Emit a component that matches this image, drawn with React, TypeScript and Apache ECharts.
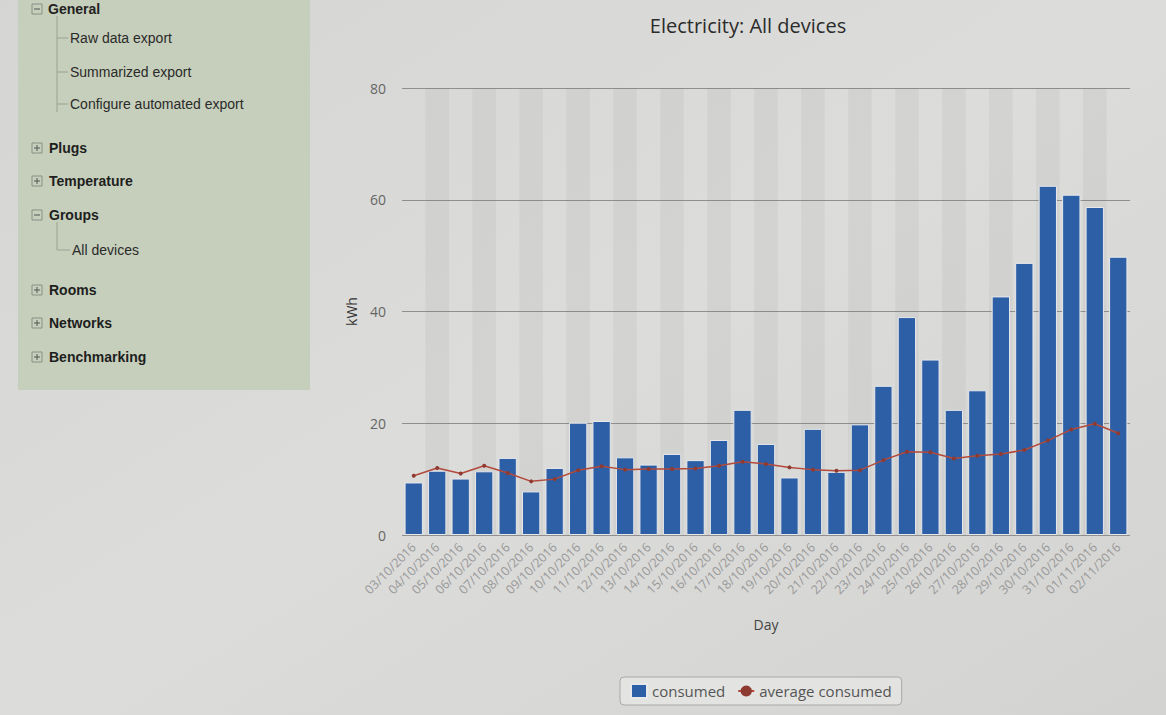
import React, { useEffect, useRef } from "react";
import * as echarts from "echarts";

const days: string[] = [
  "03/10/2016", "04/10/2016", "05/10/2016", "06/10/2016", "07/10/2016", "08/10/2016",
  "09/10/2016", "10/10/2016", "11/10/2016", "12/10/2016", "13/10/2016", "14/10/2016",
  "15/10/2016", "16/10/2016", "17/10/2016", "18/10/2016", "19/10/2016", "20/10/2016",
  "21/10/2016", "22/10/2016", "23/10/2016", "24/10/2016", "25/10/2016", "26/10/2016",
  "27/10/2016", "28/10/2016", "29/10/2016", "30/10/2016", "31/10/2016", "01/11/2016",
  "02/11/2016",
];

const consumed: number[] = [
  9.4, 11.5, 10.1, 11.4, 13.8, 7.8, 12.0, 20.1, 20.4, 13.9, 12.6, 14.5, 13.4, 17.0, 22.4,
  16.3, 10.3, 19.0, 11.3, 19.8, 26.7, 39.0, 31.4, 22.4, 25.9, 42.7, 48.7, 62.5, 60.9, 58.7,
  49.8,
];

const averageConsumed: number[] = [
  10.6, 12.0, 11.0, 12.4, 11.1, 9.6, 10.0, 11.6, 12.3, 11.7, 11.8, 11.8, 11.9, 12.4, 13.1,
  12.7, 12.1, 11.7, 11.5, 11.6, 13.4, 14.9, 14.8, 13.7, 14.2, 14.5, 15.2, 16.9, 18.9, 19.9,
  18.2,
];

const yTicks = { min: 0, max: 80, interval: 20 };

const menuChildrenGeneral = ["Raw data export", "Summarized export", "Configure automated export"];
const menuTop: { label: string; open: boolean; y: number }[] = [
  { label: "Plugs", open: false, y: 148 },
  { label: "Temperature", open: false, y: 181 },
  { label: "Groups", open: true, y: 215 },
  { label: "Rooms", open: false, y: 290 },
  { label: "Networks", open: false, y: 323 },
  { label: "Benchmarking", open: false, y: 357 },
];

function boxIcon(x: number, y: number, open: boolean): any[] {
  const els: any[] = [
    {
      type: "rect",
      shape: { x: x, y: y - 5, width: 10, height: 10 },
      style: { fill: "rgba(0,0,0,0)", stroke: "#8a8f86", lineWidth: 1 },
    },
    {
      type: "line",
      shape: { x1: x + 2, y1: y, x2: x + 8, y2: y },
      style: { stroke: "#555", lineWidth: 1 },
    },
  ];
  if (!open) {
    els.push({
      type: "line",
      shape: { x1: x + 5, y1: y - 3, x2: x + 5, y2: y + 3 },
      style: { stroke: "#555", lineWidth: 1 },
    });
  }
  return els;
}

function buildSidebar(): any[] {
  const els: any[] = [];
  els.push({
    type: "rect",
    shape: { x: 18, y: 0, width: 292, height: 390 },
    style: { fill: "#c6cfbb" },
    z: 0,
  });
  // General (at the very top of the panel)
  els.push(...boxIcon(32, 9, true));
  els.push({
    type: "text",
    style: { x: 48, y: 9, text: "General", fill: "#222", font: "bold 14px 'Liberation Sans', Arial, sans-serif", verticalAlign: "middle" },
  });
  els.push({
    type: "line",
    shape: { x1: 57, y1: 16, x2: 57, y2: 112 },
    style: { stroke: "#9aa294", lineWidth: 1 },
  });
  const gy = [38, 72, 104];
  menuChildrenGeneral.forEach((t, i) => {
    els.push({
      type: "line",
      shape: { x1: 57, y1: gy[i], x2: 68, y2: gy[i] },
      style: { stroke: "#9aa294", lineWidth: 1 },
    });
    els.push({
      type: "text",
      style: { x: 70, y: gy[i], text: t, fill: "#2a2a2a", font: "14px 'Liberation Sans', Arial, sans-serif", verticalAlign: "middle" },
    });
  });
  menuTop.forEach((m) => {
    els.push(...boxIcon(32, m.y, m.open));
    els.push({
      type: "text",
      style: { x: 49, y: m.y, text: m.label, fill: "#1e1e1e", font: "bold 14px 'Liberation Sans', Arial, sans-serif", verticalAlign: "middle" },
    });
  });
  // Groups child
  els.push({
    type: "line",
    shape: { x1: 57, y1: 222, x2: 57, y2: 250 },
    style: { stroke: "#9aa294", lineWidth: 1 },
  });
  els.push({
    type: "line",
    shape: { x1: 57, y1: 250, x2: 70, y2: 250 },
    style: { stroke: "#9aa294", lineWidth: 1 },
  });
  els.push({
    type: "text",
    style: { x: 72, y: 250, text: "All devices", fill: "#2a2a2a", font: "14px 'Liberation Sans', Arial, sans-serif", verticalAlign: "middle" },
  });
  return els;
}

export default function App() {
  const ref = useRef<HTMLDivElement>(null);
  useEffect(() => {
    if (!ref.current) return;
    const chart = echarts.init(ref.current, undefined, { renderer: "svg" });
    const labelFont = "'Open Sans', 'DejaVu Sans', sans-serif";
    chart.setOption({
      animation: false,
      backgroundColor: new echarts.graphic.LinearGradient(0, 0, 1, 1, [
        { offset: 0, color: "#d5d6d3" },
        { offset: 0.5, color: "#dcdcda" },
        { offset: 1, color: "#d3d3d1" },
      ]),
      title: {
        text: "Electricity: All devices",
        left: 743,
        top: 10,
        textAlign: "center",
        textStyle: { color: "#2b2b2b", fontSize: 20, fontWeight: "normal", fontFamily: labelFont },
      },
      graphic: buildSidebar(),
      grid: { left: 402, right: 36, top: 88, bottom: 180 },
      legend: {
        bottom: 10,
        left: 620,
        data: [{ name: "consumed", icon: "rect" }, { name: "average consumed" }],
        itemWidth: 16,
        itemHeight: 14,
        itemGap: 12,
        padding: [6, 10],
        borderColor: "#a9a9a9",
        borderWidth: 1,
        borderRadius: 4,
        backgroundColor: "rgba(235,235,233,0.6)",
        textStyle: { color: "#555", fontSize: 15, fontFamily: labelFont },
      },
      xAxis: {
        type: "category",
        data: days,
        name: "Day",
        nameLocation: "middle",
        nameGap: 82,
        nameTextStyle: { color: "#444", fontSize: 14, fontFamily: labelFont },
        axisLine: { show: false },
        axisTick: { show: false },
        axisLabel: {
          rotate: 45,
          interval: 0,
          color: "#999",
          fontSize: 12.5,
          fontFamily: labelFont,
          margin: 10,
        },
        splitArea: {
          show: true,
          areaStyle: { color: ["rgba(0,0,0,0)", "rgba(120,120,110,0.08)"] },
        },
      },
      yAxis: {
        type: "value",
        min: yTicks.min,
        max: yTicks.max,
        interval: yTicks.interval,
        name: "kWh",
        nameLocation: "middle",
        nameGap: 44,
        nameRotate: 90,
        nameTextStyle: { color: "#333", fontSize: 14, fontFamily: labelFont },
        axisLine: { show: false },
        axisTick: { show: false },
        axisLabel: { color: "#666", fontSize: 14, fontFamily: labelFont, margin: 16 },
        splitLine: { lineStyle: { color: "#8f8f8f", width: 1 } },
      },
      series: [
        {
          name: "consumed",
          type: "bar",
          data: consumed,
          barCategoryGap: "22%",
          itemStyle: { color: "#2d5fa6", borderColor: "#e6e8ec", borderWidth: 1 },
        },
        {
          name: "average consumed",
          type: "line",
          data: averageConsumed,
          symbol: "circle",
          symbolSize: 4,
          lineStyle: { color: "#b24a3c", width: 1.5 },
          itemStyle: { color: "#8e3a30" },
        },
      ],
    });
    return () => chart.dispose();
  }, []);
  return (
    <div
      ref={ref}
      style={{ position: "fixed", left: 0, top: 0, width: 1166, height: 715 }}
    />
  );
}
